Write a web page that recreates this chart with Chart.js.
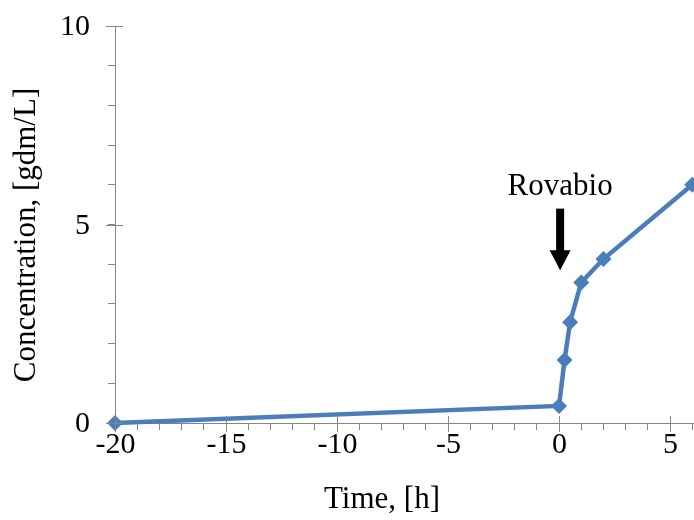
<!DOCTYPE html>
<html>
<head>
<meta charset="utf-8">
<script src="https://cdn.jsdelivr.net/npm/chart.js@4"></script>
<style>
  html, body { margin: 0; padding: 0; background: #fff; }
  #wrap { width: 694px; height: 520px; }
</style>
</head>
<body>
<div id="wrap"><canvas id="grafico" width="694" height="520"></canvas></div>
<script>
// data
const tiempo = [-20, 0, 0.25, 0.5, 1, 2, 6];
const concentracion = [0, 0.43, 1.59, 2.54, 3.54, 4.13, 6.0];
const ticksX = [-20, -15, -10, -5, 0, 5];
const ticksY = [0, 5, 10];

// arrow marking the enzyme addition (data units)
const flechaX = 0.05;
const flechaArriba = 5.4;
const flechaPunta = 3.85;
const textoFlecha = 'Rovabio';
const textoY = 5.95;

const familia = '"Liberation Serif", "Times New Roman", serif';
const gris = '#868686';
const azul = '#4a7ebb';

// tick labels, major ticks crossing the axes, arrow and axis titles
const extras = {
  id: 'extras',
  afterDraw(chart) {
    const ctx = chart.ctx;
    const x = chart.scales.x, y = chart.scales.y;
    const area = chart.chartArea;
    ctx.save();
    ctx.strokeStyle = gris;
    ctx.lineWidth = 1;
    ctx.fillStyle = '#000';
    ctx.font = '30px ' + familia;
    ctx.textBaseline = 'middle';

    ctx.textAlign = 'center';
    ticksX.forEach(v => {
      const px = Math.round(x.getPixelForValue(v)) + 0.5;
      ctx.beginPath();
      ctx.moveTo(px, area.bottom - 7);
      ctx.lineTo(px, area.bottom + 9);
      ctx.stroke();
      ctx.fillText(String(v), px, area.bottom + 22);
    });
    ctx.textAlign = 'right';
    ticksY.forEach(v => {
      const py = Math.round(y.getPixelForValue(v)) + 0.5;
      ctx.beginPath();
      ctx.moveTo(area.left - 9, py);
      ctx.lineTo(area.left + 8, py);
      ctx.stroke();
      ctx.fillText(String(v), area.left - 25, py + 1);
    });

    // arrow
    const ax = x.getPixelForValue(flechaX);
    const top = y.getPixelForValue(flechaArriba);
    const tip = y.getPixelForValue(flechaPunta);
    const headH = 20;
    ctx.fillRect(ax - 4, top, 8, tip - headH - top + 1);
    ctx.beginPath();
    ctx.moveTo(ax - 10.5, tip - headH);
    ctx.lineTo(ax + 10.5, tip - headH);
    ctx.lineTo(ax, tip);
    ctx.closePath();
    ctx.fill();

    ctx.font = '31px ' + familia;
    ctx.textAlign = 'center';
    ctx.fillText(textoFlecha, ax, y.getPixelForValue(textoY));

    // axis titles
    ctx.fillText('Time, [h]', 382, 500);
    ctx.translate(27, 235);
    ctx.rotate(-Math.PI / 2);
    ctx.fillText('Concentration, [gdm/L]', 0, 0);
    ctx.restore();
  }
};

new Chart(document.getElementById('grafico'), {
  type: 'scatter',
  data: {
    datasets: [{
      data: tiempo.map((t, i) => ({ x: t, y: concentracion[i] })),
      showLine: true,
      borderColor: azul,
      backgroundColor: azul,
      borderWidth: 4.5,
      pointStyle: 'rectRot',
      pointRadius: 8,
      pointBorderWidth: 0,
      clip: false
    }]
  },
  options: {
    responsive: false,
    animation: false,
    layout: { autoPadding: false, padding: { top: 26, right: 0, left: 0, bottom: 0 } },
    plugins: { legend: { display: false }, tooltip: { enabled: false } },
    scales: {
      x: {
        type: 'linear',
        min: -20,
        max: 6.08,
        afterFit: s => { s.height = 97; },
        afterBuildTicks: s => {
          const t = [];
          for (let v = -20; v <= 6; v++) t.push({ value: v });
          s.ticks = t;
        },
        border: { color: gris, width: 1 },
        grid: { drawOnChartArea: false, drawTicks: true, tickLength: 7, color: gris },
        ticks: { display: false, autoSkip: false }
      },
      y: {
        min: 0,
        max: 10,
        afterFit: s => { s.width = 115; },
        afterBuildTicks: s => {
          const t = [];
          for (let v = 0; v <= 10; v++) t.push({ value: v });
          s.ticks = t;
        },
        border: { color: gris, width: 1 },
        grid: { drawOnChartArea: false, drawTicks: true, tickLength: 7, color: gris },
        ticks: { display: false, autoSkip: false }
      }
    }
  },
  plugins: [extras]
});
</script>
</body>
</html>
